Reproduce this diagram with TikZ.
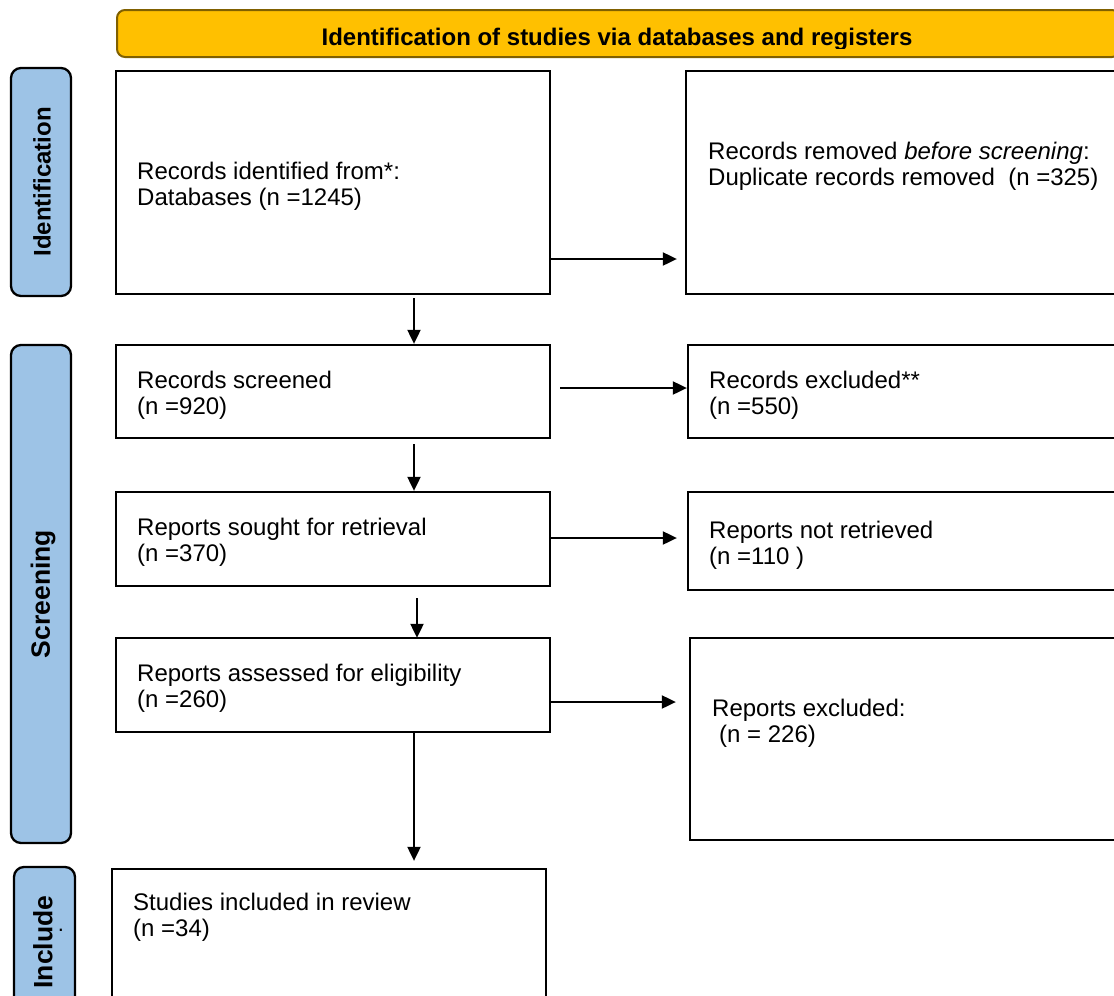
\documentclass[tikz,border=0pt]{standalone}
\usepackage{fontspec}
\setmainfont{Liberation Sans}
\usetikzlibrary{arrows.meta}
\definecolor{bannerfill}{HTML}{FFC000}
\definecolor{bannerdraw}{HTML}{806000}
\definecolor{labelfill}{HTML}{9DC3E6}
\begin{document}
\begin{tikzpicture}[x=1pt,y=-1pt,
  box/.style={draw=black, line width=2.3pt, fill=white, rectangle, inner sep=0pt},
  sidelabel/.style={draw=black, line width=2.3pt, fill=labelfill, rounded corners=10pt, inner sep=0pt},
  txt/.style={anchor=west, align=left, inner sep=0pt, font=\fontsize{24}{26}\selectfont},
  lbltxt/.style={rotate=90, inner sep=0pt, font=\bfseries\fontsize{26.5}{28}\selectfont},
  arr/.style={line width=2pt, -{Triangle[length=14pt,width=13pt]}}
]
\useasboundingbox (0,0) rectangle (1114,996);

% banner
\node[draw=bannerdraw, line width=2pt, fill=bannerfill, rounded corners=8pt,
      minimum width=1003pt, minimum height=47pt, inner sep=0pt] (banner) at (618.5,33.5) {};
\begin{scope}
  \clip (117,10) rectangle (1120,48);
  \node[inner sep=0pt, font=\bfseries\fontsize{24}{26}\selectfont] (bannertxt) at (617,39.5)
    {Identification of studies via databases and registers};
\end{scope}

% side labels
\node[sidelabel, minimum width=60pt, minimum height=228pt] (lid) at (41,182) {};
\node[lbltxt, font=\bfseries\fontsize{24}{26}\selectfont] (lidtxt) at (42,182) {Identification};
\node[sidelabel, minimum width=60pt, minimum height=498pt] (lsc) at (41,594) {};
\node[lbltxt] (lsctxt) at (43,594) {Screening};
\node[sidelabel, minimum width=61pt, minimum height=150pt] (lin) at (44.5,942) {};
\node[lbltxt] (lintxt) at (43,942) {Include};
\node[inner sep=0pt, font=\fontsize{22}{22}\selectfont] (lindot) at (61,930) {.};

% boxes
\node[box, minimum width=434pt, minimum height=223pt] (idf) at (333,182.5) {};
\node[box, minimum width=444pt, minimum height=223pt] (rem) at (908,182.5) {};
\node[box, minimum width=434pt, minimum height=93pt] (scr) at (333,391.5) {};
\node[box, minimum width=442pt, minimum height=93pt] (exc) at (909,391.5) {};
\node[box, minimum width=434pt, minimum height=94pt] (sou) at (333,539) {};
\node[box, minimum width=442pt, minimum height=98pt] (ret) at (909,541) {};
\node[box, minimum width=434pt, minimum height=94pt] (ass) at (333,685) {};
\node[box, minimum width=440pt, minimum height=202pt] (rex) at (910,739) {};
\node[box, minimum width=434pt, minimum height=150pt] (inc) at (329,944) {};

% texts
\node[txt] (idft) at (137,186) {Records identified from*:\\Databases (n =1245)};
\node[txt] (remt) at (708,166) {Records removed \textit{before screening}:\\Duplicate records removed\ \ (n =325)};
\node[txt] (scrt) at (137,395) {Records screened\\(n =920)};
\node[txt] (exct) at (709,395) {Records excluded**\\(n =550)};
\node[txt] (sout) at (137,542) {Reports sought for retrieval\\(n =370)};
\node[txt] (rett) at (709,545) {Reports not retrieved\\(n =110\ )};
\node[txt] (asst) at (137,688) {Reports assessed for eligibility\\(n =260)};
\node[txt] (rext) at (712,723) {Reports excluded:\\\hspace*{7pt}(n = 226)};
\node[txt] (inct) at (133,917) {Studies included in review\\(n =34)};

% connectors
\draw[arr, shorten <=3pt] (idf.south -| 414,0) -- (scr.north -| 414,0);
\draw[arr, shorten <=5pt] (scr.south -| 414,0) -- (sou.north -| 414,0);
\draw[arr, shorten <=11pt, shorten >=-1pt] (sou.south -| 417,0) -- (ass.north -| 417,0);
\draw[arr, shorten <=-1pt, shorten >=7pt] (ass.south -| 414,0) -- (inc.north -| 414,0);

\draw[arr, shorten >=8pt] (idf.east |- 0,259) -- (rem.west |- 0,259);
\draw[arr, shorten <=9pt] (scr.east |- 0,388) -- (exc.west |- 0,388);
\draw[arr, shorten <=-2pt, shorten >=10pt] (sou.east |- 0,538) -- (ret.west |- 0,538);
\draw[arr, shorten <=-2pt, shorten >=13pt] (ass.east |- 0,702) -- (rex.west |- 0,702);
\end{tikzpicture}
\end{document}
